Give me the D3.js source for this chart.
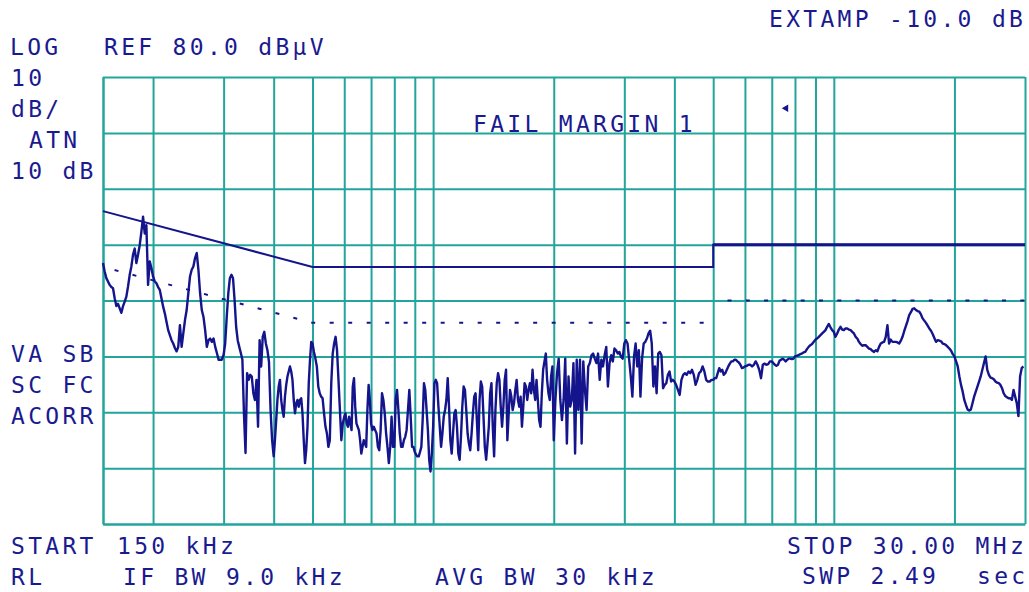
<!DOCTYPE html>
<html>
<head>
<meta charset="utf-8">
<title>Conducted emission scan</title>
<script src="https://cdnjs.cloudflare.com/ajax/libs/d3/7.8.5/d3.min.js"></script>
<style>
  body { margin: 0; background: #fff; }
  text { font-family: "DejaVu Sans Mono", monospace; font-size: 23px; fill: #1a1a90; letter-spacing: 3.3px; }
</style>
</head>
<body>
<script>
// frequency grid of the analyzer screen (MHz) and level grid (dBµV)
var gridMHz = [0.15, 0.2, 0.3, 0.4, 0.5, 0.6, 0.7, 0.8, 0.9, 1, 2, 3, 4, 5, 6, 7, 8, 9, 10, 20, 30];
var gridDb = [0, 10, 20, 30, 40, 50, 60, 70, 80];

// limit lines (already shifted by EXTAMP -10 dB)
var limitQpMHz = [0.15, 0.5, 5, 5, 30];
var limitQpDb = [56, 46, 46, 50, 50];
var limitAvLowMHz = [0.15, 0.5, 5];
var limitAvLowDb = [46, 36, 36];
var limitAvHighMHz = [5, 30];
var limitAvHighDb = [40, 40];

// measured trace, one row per grid cell (gridMHz[k] .. gridMHz[k+1])
var traceDb = [
  [46.7, 45.2, 44.0, 43.4, 42.8, 42.4, 42.2, 40.4, 39.0, 39.4, 38.6, 37.8, 39.0, 39.8, 40.7, 42.5, 44.6, 46.1, 48.2, 49.3,
   46.7, 48.2, 49.9, 52.3, 55.0, 52.0, 53.5, 42.8, 47.0, 45.8],
  [44.3, 43.4, 43.1, 42.4, 41.9, 40.4, 38.9, 37.7, 36.2, 34.7, 33.8, 32.9, 32.3, 31.5, 30.9, 31.7, 35.6, 31.7, 34.1, 36.5,
   38.3, 41.3, 44.3, 45.5, 46.1, 47.6, 48.5, 45.5, 41.3, 38.3, 37.1, 34.7, 31.7, 32.9, 33.2, 32.6, 33.2, 31.7, 30.6, 29.4,
   29.4, 29.4],
  [30.3, 32.3, 37.1, 41.3, 44.0, 44.6, 44.0, 40.1, 35.3, 32.9, 31.7, 30.6, 29.4, 19.8, 12.7, 27.0, 25.8, 26.7, 26.4, 23.4,
   22.2, 25.8, 17.4, 32.9, 28.2, 33.5, 34.4, 32.3, 31.1, 29.0, 20.4, 15.0],
  [12.1, 15.0, 18.6, 22.2, 24.6, 25.8, 22.2, 20.4, 19.2, 22.8, 24.9, 26.4, 27.3, 28.2, 27.3, 25.8, 22.2, 19.8, 21.6, 22.2,
   21.0, 22.2, 22.5, 19.8, 15.0, 10.9, 13.3, 17.4, 25.2, 29.4, 32.6],
  [32.3, 30.8, 29.6, 28.2, 24.6, 23.4, 22.8, 22.5, 19.8, 17.4, 16.2, 13.8, 15.0, 25.2, 30.5, 32.3, 33.5, 31.1, 25.8, 20.4,
   15.0, 18.0],
  [19.2, 19.8, 18.0, 17.4, 19.2, 18.0, 16.8, 24.6, 26.1, 21.0, 18.0, 17.4, 16.8, 15.0, 12.6, 13.8, 15.0, 14.4, 13.8, 20.4,
   24.9, 22.2],
  [18.0, 16.8, 17.4, 16.8, 16.2, 13.8, 13.2, 16.8, 23.4, 22.2, 19.8, 16.2, 13.8, 10.9, 13.8, 19.2, 13.8],
  [13.8, 22.2, 24.0, 20.4, 16.2, 13.8, 13.8, 15.0, 15.6, 16.8, 20.4, 24.0, 19.2, 13.8, 13.8],
  [12.9, 12.4, 12.1, 12.1, 12.9, 13.8, 18.6, 25.2, 24.0, 20.4, 16.8, 11.5, 9.4, 12.6],
  [17.4, 25.2, 25.8, 25.2, 21.0, 17.4, 13.8, 16.2, 19.2, 20.4, 22.2, 26.1, 21.0, 15.0, 12.6, 16.2, 19.8, 20.4, 17.4, 12.6,
   11.5, 15.6, 21.0, 24.6, 24.0, 20.4, 16.2, 14.4, 13.2, 16.2, 19.8, 22.8, 23.4, 18.6, 13.2, 22.2, 25.5, 24.6, 19.2, 13.8,
   11.5, 14.4, 17.4, 23.4, 25.2, 17.4, 12.1, 20.4, 25.2, 27.0, 25.8, 21.0, 17.4, 21.0, 25.8, 27.6, 15.0, 19.8, 24.0, 22.8,
   20.4, 21.6, 24.0, 25.8, 22.2, 21.0, 22.8, 17.4, 21.0, 25.2, 24.6, 22.2, 24.0, 25.2, 23.4, 27.6, 24.0, 22.2, 25.8, 22.2,
   18.6, 17.4, 23.4, 27.6, 29.1, 30.5, 25.8, 23.4, 22.2, 26.4, 28.2],
  [15.0, 22.2, 27.0, 29.6, 22.2, 18.6, 22.2, 29.6, 14.4, 26.4, 21.0, 22.2, 28.8, 12.6, 29.4, 20.4, 29.4, 14.4, 29.1, 24.0,
   20.4, 28.2, 28.8, 30.2, 30.5, 29.6, 28.8, 30.5, 25.8, 29.4, 28.2, 30.2, 31.7, 24.6, 28.8, 30.2, 29.1, 31.4, 31.1, 30.5,
   30.8, 29.9, 29.6],
  [32.3, 32.9, 32.3, 29.4, 26.4, 22.8, 29.9, 32.3, 28.2, 31.1, 22.8, 29.6, 32.3, 32.6, 33.2, 34.1, 34.6, 32.3, 24.6, 28.2,
   23.4, 30.5, 30.8, 30.2, 24.3, 24.9, 25.2, 26.7, 27.3, 25.5, 25.8],
  [25.5, 24.9, 24.0, 23.1, 25.8, 26.7, 27.0, 26.7, 27.3, 27.0, 27.6, 26.7, 24.9, 25.8, 27.0, 27.3, 28.2, 27.3, 25.8, 25.5,
   25.5, 25.8],
  [25.8, 26.1, 26.1, 27.0, 27.9, 27.3, 27.6, 26.7, 27.0, 27.6, 28.2, 28.7, 29.1, 29.1, 29.4, 29.4, 29.1, 28.9, 28.5, 27.9,
   28.0],
  [28.2, 28.3, 28.5, 28.5, 28.2, 28.5, 29.1, 28.5, 27.6, 26.1, 28.5, 28.7, 28.5, 28.6, 29.1],
  [29.1, 28.8, 28.5, 28.3, 28.5, 29.2, 29.4, 29.6, 29.4, 29.1, 29.4, 29.6, 29.6, 29.5, 29.6],
  [30.0, 30.1, 30.2, 30.4, 30.5, 30.7, 30.8, 31.3, 31.7, 32.0, 32.2, 32.6],
  [33.0, 33.2, 33.5, 33.8, 34.1, 34.4, 34.7, 35.3, 35.8, 35.2, 34.7],
  [34.4, 33.5, 34.1, 34.8, 35.3, 34.8, 34.7, 35.0, 35.0, 34.8, 34.7, 34.4, 34.1, 33.5, 33.2, 32.6, 32.2, 31.9, 32.0, 32.0,
   31.7, 31.4, 31.3, 31.0, 30.8, 31.1, 30.9, 31.7, 32.3, 32.5, 32.6, 33.5, 35.6, 32.3, 33.0, 32.6, 32.6, 32.6, 32.5, 32.3,
   32.8, 33.5, 34.5, 35.4, 36.3, 37.4, 37.9, 38.5, 38.6, 38.3, 38.1, 38.0, 37.5, 36.8, 36.4, 36.0, 35.5, 35.0, 34.6, 34.0,
   33.3, 32.6, 32.9, 32.8, 32.7, 32.3, 32.2, 32.0, 31.7, 31.4, 31.0, 30.4],
  [30.0, 29.1, 28.2, 26.4, 24.9, 23.7, 22.2, 21.3, 20.5, 20.3, 20.5, 21.6, 22.8, 23.7, 24.6, 25.5, 26.4, 27.6, 28.8, 30.0,
   27.6, 26.7, 26.2, 26.1, 25.9, 25.5, 25.3, 25.2, 24.9, 24.3, 23.4, 22.9, 22.7, 22.5, 22.5, 22.2, 24.0, 22.8, 21.6, 19.3,
   26.4, 27.9, 28.2]
];

var markerMHz = 7.6, markerDb = 74.4;

var W = 1029, H = 592;
var gridColor = "#22a59b", traceColor = "#14148c";

var svg = d3.select("body").append("svg")
    .attr("width", W)
    .attr("height", H);

var x = d3.scaleLog().domain([0.15, 30]).range([103, 1025]);
var y = d3.scaleLinear().domain([0, 80]).range([524, 77]);

// graticule drawn with the axes
svg.append("g")
    .attr("class", "vgrid")
    .attr("transform", "translate(0," + y(0) + ")")
    .call(d3.axisBottom(x).tickValues(gridMHz).tickSize(-(y(0) - y(80))).tickSizeOuter(0).tickFormat(function() { return ""; }));

svg.append("g")
    .attr("class", "hgrid")
    .attr("transform", "translate(" + x(0.15) + ",0)")
    .call(d3.axisLeft(y).tickValues(gridDb).tickSize(-(x(30) - x(0.15))).tickSizeOuter(0).tickFormat(function() { return ""; }));

svg.selectAll(".vgrid line, .vgrid path, .hgrid line, .hgrid path")
    .attr("stroke", gridColor)
    .attr("stroke-width", 2);

// limit lines
function pairs(fs, ds) {
    return fs.map(function(f, i) { return { f: f, db: ds[i] }; });
}
var line = d3.line()
    .x(function(d) { return x(d.f); })
    .y(function(d) { return y(d.db); });

var qp = pairs(limitQpMHz, limitQpDb);
svg.append("path")
    .attr("d", line(qp))
    .attr("fill", "none")
    .attr("stroke", traceColor)
    .attr("stroke-width", 2);
svg.append("path")
    .attr("d", line(qp.filter(function(d) { return d.f >= 5 && d.db === 50; })))
    .attr("fill", "none")
    .attr("stroke", traceColor)
    .attr("stroke-width", 3);

svg.append("path")
    .attr("d", line(pairs(limitAvLowMHz, limitAvLowDb)))
    .attr("fill", "none")
    .attr("stroke", traceColor)
    .attr("stroke-width", 2)
    .attr("stroke-dasharray", "4,14.5")
    .attr("stroke-dashoffset", -12);

svg.append("path")
    .attr("d", line(pairs(limitAvHighMHz, limitAvHighDb)))
    .attr("fill", "none")
    .attr("stroke", traceColor)
    .attr("stroke-width", 2)
    .attr("stroke-dasharray", "4,14.3")
    .attr("stroke-dashoffset", 4);

// trace: points spread evenly (log) inside each grid cell
var trace = [];
traceDb.forEach(function(cell, k) {
    var a = gridMHz[k], b = gridMHz[k + 1];
    cell.forEach(function(v, j) {
        trace.push({ f: a * Math.pow(b / a, j / cell.length), db: v });
    });
});

svg.append("path")
    .attr("d", line(trace))
    .attr("fill", "none")
    .attr("stroke", traceColor)
    .attr("stroke-width", 2.4)
    .attr("stroke-linejoin", "round");

// marker
svg.append("path")
    .attr("d", d3.symbol().type(d3.symbolTriangle).size(24)())
    .attr("transform", "translate(" + x(markerMHz) + "," + y(markerDb) + ") rotate(-90)")
    .attr("fill", traceColor);

// annotation text
function label(px, py, s) {
    svg.append("text").attr("x", px).attr("y", py).text(s);
}
label(769, 27, "EXTAMP -10.0 dB");
label(10, 55, "LOG");
label(104, 55, "REF 80.0 dBµV");
label(11, 86, "10");
label(11, 117, "dB/");
label(29, 148, "ATN");
label(11, 179, "10 dB");
label(473, 132, "FAIL MARGIN 1");
label(11, 362, "VA SB");
label(11, 393, "SC FC");
label(11, 424, "ACORR");
label(11, 554, "START");
label(117, 554, "150 kHz");
label(787, 554, "STOP 30.00 MHz");
label(11, 585, "RL");
label(123, 585, "IF BW 9.0 kHz");
label(435, 585, "AVG BW 30 kHz");
label(802, 584, "SWP 2.49");
label(977, 584, "sec");
</script>
</body>
</html>
